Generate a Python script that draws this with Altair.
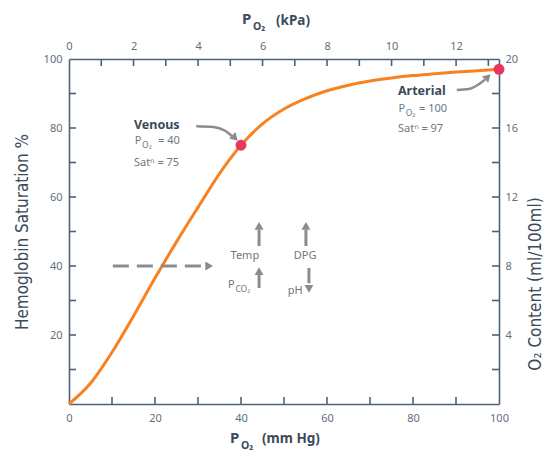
import altair as alt
import pandas as pd

# ---- data ----
po2_mmhg = [0, 5, 10, 15, 20, 25, 30, 35, 40, 45, 50, 55, 60, 65, 70, 75, 80, 85, 90, 95, 100]
saturation = [0, 6, 15, 25.5, 36.5, 47, 57, 66.8, 75, 81.2, 85.5, 88.5, 90.8, 92.4, 93.6, 94.5, 95.2, 95.7, 96.2, 96.6, 97]

marker_names = ["Venous", "Arterial"]
marker_po2 = [40, 100]
marker_sat = [75, 97]

bottom_labels = [0, 20, 40, 60, 80, 100]
left_labels = [20, 40, 60, 80, 100]
minor_mm = [10, 20, 30, 40, 50, 60, 70, 80, 90]
minor_sat = [10, 20, 30, 40, 50, 60, 70, 80, 90]
kpa_labels = [0, 2, 4, 6, 8, 10, 12]
kpa_ticks = [1, 2, 3, 4, 5, 6, 7, 8, 9, 10, 11, 12, 13]
o2_labels = [4, 8, 12, 16, 20]
o2_ticks = [2, 4, 6, 8, 10, 12, 14, 16, 18]
KPA_MAX = 13.33
O2_MAX = 20

# annotation texts (data coordinates)
bold_text = ["Venous", "Arterial"]
bold_x = [15.1, 76.5]
bold_y = [80.9, 90.7]
reg_text = ["P", "= 40", "Satⁿ = 75", "P", "= 100", "Satⁿ = 97", "Temp", "DPG", "pH"]
reg_x = [15.3, 20.7, 15.1, 76.6, 81.4, 76.5, 40.9, 54.9, 52.6]
reg_y = [76.2, 76.2, 69.9, 85.5, 85.5, 79.7, 42.9, 42.9, 32.8]
reg_align = ["left", "left", "left", "left", "left", "left", "center", "center", "center"]
pco2_x, pco2_y = 37.0, 34.5
sub_text = ["O₂", "O₂", "CO₂"]
sub_x = [17.0, 78.3, 38.7]
sub_y = [76.2, 85.5, 34.5]

# arrows (data coordinates)
curved_id = ["v", "v", "v", "v", "a", "a", "a", "a"]
curved_x = [29.6, 33.6, 36.3, 37.9, 90.2, 93.0, 95.2, 96.7]
curved_y = [80.5, 80.3, 79.2, 77.7, 91.0, 91.3, 92.6, 94.0]
head_x = [38.6, 97.4, 32.6, 44.2, 55.1, 44.2, 55.8]
head_y = [77.1, 94.8, 40.0, 51.6, 51.6, 38.5, 33.4]
head_angle = [135, 45, 90, 0, 0, 0, 180]
stem_x = [44.2, 55.1, 44.2, 55.8]
stem_y1 = [45.8, 45.8, 33.6, 35.0]
stem_y2 = [50.5, 50.5, 37.5, 39.4]
dash_x1, dash_x2, dash_y = 10.2, 31.5, 40.0

W, H = 430, 345
AXIS_COLOR = "#4d6277"
LABEL_COLOR = "#5f6f7f"
TITLE_COLOR = "#3c4a5a"
GRAY = "#8c8c8c"
ORANGE = "#f7821f"
RED = "#e8375e"
LFONT = "Noto Sans"
TFONT = "Liberation Sans Narrow, DejaVu Sans Condensed"

xs = alt.Scale(domain=[0, 100], nice=False, zero=False)
ys = alt.Scale(domain=[0, 100], nice=False, zero=False)

xaxis = alt.Axis(values=bottom_labels, ticks=False, grid=False, title=None,
                 domainColor=AXIS_COLOR, domainWidth=1.6, labelColor=LABEL_COLOR,
                 labelFont=LFONT, labelFontSize=11, labelPadding=8, labelFlush=False)
yaxis = alt.Axis(values=left_labels, ticks=False, grid=False,
                 title="Hemoglobin Saturation %", titleFont=TFONT, titleFontSize=17,
                 titleFontWeight="normal", titleColor=TITLE_COLOR, titlePadding=12,
                 domainColor=AXIS_COLOR, domainWidth=1.6, labelColor=LABEL_COLOR,
                 labelFont=LFONT, labelFontSize=11, labelPadding=7, labelFlush=False)

X = lambda f: alt.X(f, type="quantitative", scale=xs, axis=xaxis)
Y = lambda f: alt.Y(f, type="quantitative", scale=ys, axis=yaxis)

curve_df = pd.DataFrame({"x": po2_mmhg, "y": saturation})
curve = alt.Chart(curve_df).mark_line(color=ORANGE, strokeWidth=3, interpolate="monotone").encode(
    x=X("x"), y=Y("y"))

dots = alt.Chart(pd.DataFrame({"x": marker_po2, "y": marker_sat, "n": marker_names})).mark_point(
    filled=True, color=RED, size=120, opacity=1).encode(x=X("x"), y=Y("y"))

bt = alt.Chart(pd.DataFrame({"x": minor_mm})).mark_rule(color=AXIS_COLOR, strokeWidth=1.6).encode(
    x=X("x"), y=alt.value(H), y2=alt.value(H - 7))
lt = alt.Chart(pd.DataFrame({"y": minor_sat})).mark_rule(color=AXIS_COLOR, strokeWidth=1.6).encode(
    y=Y("y"), x=alt.value(0), x2=alt.value(7))

bold = alt.Chart(pd.DataFrame({"x": bold_x, "y": bold_y, "t": bold_text})).mark_text(
    align="left", baseline="middle", font=LFONT, fontSize=12.5, fontWeight="bold", color=TITLE_COLOR).encode(
    x=X("x"), y=Y("y"), text="t:N")
reg_df = pd.DataFrame({"x": reg_x, "y": reg_y, "t": reg_text, "a": reg_align})
reg_left = alt.Chart(reg_df[reg_df.a == "left"]).mark_text(
    align="left", baseline="middle", font=LFONT, fontSize=11, color="#6e7883").encode(
    x=X("x"), y=Y("y"), text="t:N")
reg_center = alt.Chart(reg_df[reg_df.a == "center"]).mark_text(
    align="center", baseline="middle", font=LFONT, fontSize=11, color="#6e7883").encode(
    x=X("x"), y=Y("y"), text="t:N")
pco2 = alt.Chart(pd.DataFrame({"x": [pco2_x], "y": [pco2_y], "t": ["P"]})).mark_text(
    align="left", baseline="middle", font=LFONT, fontSize=11, color="#6e7883").encode(
    x=X("x"), y=Y("y"), text="t:N")
subs = alt.Chart(pd.DataFrame({"x": sub_x, "y": sub_y, "t": sub_text})).mark_text(
    align="left", baseline="middle", dy=4, font=LFONT, fontSize=8.5, color="#6e7883").encode(
    x=X("x"), y=Y("y"), text="t:N")

curved = alt.Chart(pd.DataFrame({"x": curved_x, "y": curved_y, "id": curved_id})).mark_line(
    color=GRAY, strokeWidth=2.5, interpolate="monotone").encode(x=X("x"), y=Y("y"), detail="id:N")
heads = alt.Chart(pd.DataFrame({"x": head_x, "y": head_y, "a": head_angle})).mark_point(
    shape="triangle-up", filled=True, color=GRAY, size=80, opacity=1).encode(
    x=X("x"), y=Y("y"), angle=alt.Angle("a:Q", scale=None))
stems = alt.Chart(pd.DataFrame({"x": stem_x, "y": stem_y1, "y2": stem_y2})).mark_rule(
    color=GRAY, strokeWidth=3).encode(x=X("x"), y=Y("y"), y2="y2:Q")
dash = alt.Chart(pd.DataFrame({"x": [dash_x1], "x2": [dash_x2], "y": [dash_y]})).mark_rule(
    color=GRAY, strokeWidth=3, strokeDash=[16, 8]).encode(x=X("x"), x2="x2:Q", y=Y("y"))

one = pd.DataFrame({"k": [0]})
def title_piece(txt, px, py, size, weight="bold"):
    return alt.Chart(one).mark_text(text=txt, align="left", baseline="middle", font=LFONT,
                                    fontSize=size, fontWeight=weight, color=TITLE_COLOR).encode(
        x=alt.value(px), y=alt.value(py))

titles = [
    title_piece("P", 161, 379, 15),
    title_piece("O₂", 172, 387, 10.5),
    title_piece("(mm Hg)", 193, 380, 13.5),
    title_piece("P", 173, -40, 15),
    title_piece("O₂", 184, -32, 10.5),
    title_piece("(kPa)", 207, -38, 13.5),
]
right_title = alt.Chart(one).mark_text(text="O₂ Content (ml/100ml)", angle=270, align="center",
                                       baseline="middle", font=TFONT, fontSize=17,
                                       color=TITLE_COLOR).encode(x=alt.value(467), y=alt.value(225))

layer_a = alt.layer(curve, bt, lt, dash, curved, stems, heads, dots, bold, reg_left, reg_center,
                    pco2, subs, *titles, right_title)

# secondary axes (kPa on top, O2 content on right)
ks = alt.Scale(domain=[0, KPA_MAX], nice=False, zero=False)
cs = alt.Scale(domain=[0, O2_MAX], nice=False, zero=False)
kaxis = alt.Axis(orient="top", values=kpa_labels, ticks=False, grid=False, title=None,
                 domainColor=AXIS_COLOR, domainWidth=1.6, labelColor=LABEL_COLOR,
                 labelFont=LFONT, labelFontSize=11, labelPadding=8, labelFlush=False)
caxis = alt.Axis(orient="right", values=o2_labels, ticks=False, grid=False, title=None,
                 domainColor=AXIS_COLOR, domainWidth=1.6, labelColor=LABEL_COLOR,
                 labelFont=LFONT, labelFontSize=11, labelPadding=6, labelFlush=False)
tt = alt.Chart(pd.DataFrame({"k": kpa_ticks})).mark_rule(color=AXIS_COLOR, strokeWidth=1.6).encode(
    x=alt.X("k:Q", scale=ks, axis=kaxis), y=alt.value(0), y2=alt.value(7))
rt = alt.Chart(pd.DataFrame({"c": o2_ticks})).mark_rule(color=AXIS_COLOR, strokeWidth=1.6).encode(
    y=alt.Y("c:Q", scale=cs, axis=caxis), x=alt.value(W), x2=alt.value(W - 7))
layer_b = alt.layer(tt, rt)

chart = alt.layer(layer_a, layer_b).resolve_scale(x="independent", y="independent").properties(
    width=W, height=H, background="white", padding={"left": 5, "top": 4, "right": 0, "bottom": 2}
).configure_view(stroke=None)

chart.save("out.html", embed_options={"renderer": "svg", "actions": False})
